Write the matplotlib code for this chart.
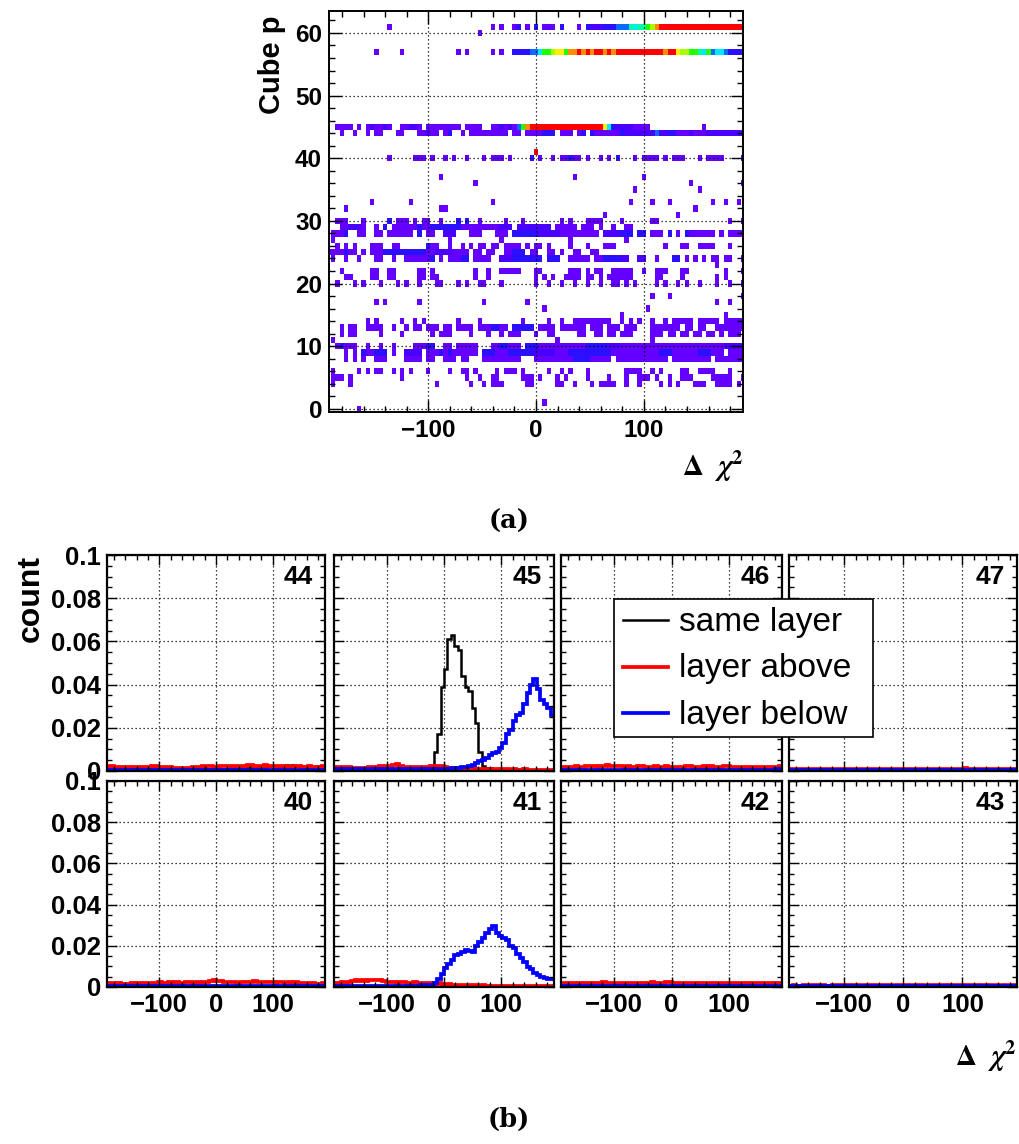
import matplotlib
matplotlib.use('Agg')
import matplotlib.pyplot as plt
import numpy as np
from matplotlib.colors import ListedColormap, BoundaryNorm
from matplotlib.lines import Line2D
from matplotlib.patches import Rectangle
from matplotlib.ticker import MultipleLocator, FuncFormatter, FormatStrFormatter

plt.rcParams['font.family'] = ['Liberation Sans', 'DejaVu Sans']
plt.rcParams['font.weight'] = 'bold'

# ---- (a) cube p vs delta chi2 map: 97 x-bins of width 4 centred on 0, rows 0..63 ----
# each row: "col", "a-b" or "a-b:code"; code 1..9, o (orange), r (red); default code 1
cube_rows = {
    0: "7",
    1: "50",
    4: "1 5 25 33 36 38-40 46-47 53-54 57 61 63-66 69 72 77 79 81 85-87 90-93 95",
    5: "1-3 5 17 32 35 38-39 45-47 49 53 55 60 65 69 72-74 76 79 82-84 89-93 96",
    6: "1 7 9 11-12 15 17 19 23 28 31-32 34 39 41-43 45 51 54 56 60 69-72 75 77 82-83 86-89 93",
    8: "4 6 8 11-13 18-21 23-24 27-29 31-32 36-38 39-44 48-56 57-60:3 61-65 67-71 72-78 80-84 85-88 90-91 92-96",
    9: "4 6 8:3 9-10 11-13:3 15 18-21:2 23-25 26:3 27 28:3 29 30-34 36-38:3 39-41 42-44:3 45-47:3 "
       "48-52:2 53-55 56-60:3 61-65:3 66-71 72-76 77-79:3 80-82 83-85 86-88:3 89-91 93-96",
    10: "2 3:3 4-6 9 12 15 20-22 23-24:3 27-28 30-31 32-34 38-39 40-41:3 42-44 46-48:3 49-52 53-55 "
        "56-59 60-64:3 65-67:2 68-71 72-76 77-80 81-84 85-87 88-91 92-96:2",
    11: "1 53 75",
    12: "3 5-6 12 17 24 26-28 33 37 40 42-44 48 51-52 58-59 62-63 65-66 68-70 75-77 79-80 82-83 85-86 88-89 91 93-95",
    13: "3 5-6 9-12 15 18 20-21 23-25 27-28 30-33 35-37 38-39:3 40-41 43-47:3 49-52 54-55 56-59 "
        "61-63 65-67 69-71 75-77 78-81 83-84 86-87 90-96",
    14: "9 11 17 20 22 30 35 45 51 54 57-65 68 70 72 75 78 80-84 86-90 92-96",
    15: "68 92",
    16: "50 74",
    17: "11 13 21 36 46 90 93",
    18: "75 79 96",
    20: "2 6 8 12 16 18 21 25-26 30 32 35-36 40 48 51 54 57 60 63 66-67 69 71 76 78 81 83 86 90 93 96",
    21: "4-5 10-11 14-15 21-22 24-25 34 37 48 50 52 55-58 60-61 63 65-70 76-77 82 90 92",
    22: "3 10-11 14-15 21-22 24 34 37 40-44 48-49 56-58 60 62-63 66-70 73 76-78 82-83 92 96",
    23: "90",
    24: "1 4 7 11-12 15 18-22 23 24:3 26 28-30 31-32:3 34-37 40-42:2 43-49:3 51-53:3 56-60 62-63 "
        "64-67:3 68-69:2 72-73:2 76 80-81:3 83 85 87 89-90 92-93 96",
    25: "0-3 4:3 5-6 8 10-12 13-22:3 23-24 25-28:2 29-31 32 34-35 37-38 41-42 43-45:3 47-48 51-52 54 57-58 61-62",
    26: "2 4 6 10-12 15-16 23:3 24-25 28 31 33 35-36 38-39 41-44 46 48-49 51 56 60 64-66 78 82-83 86-89 93",
    27: "1 28 40 56 69",
    28: "1 2-3 4:3 7-8 11-12 14-16 17-19 21:3 23-24 27-29:2 33-35 39-41 43-48:3 49-53:2 54-60 61-62 "
        "64-67:2 68-70:3 72-73:3 75-77 79:3 81 83:3 84-89 91 93-96",
    29: "3-4 5-7:2 8 11 13:3 15-20 21:3 22-23 24-30:3 31-35 36-39 40-42:2 44-51:2 53-57 59-61 63 66 69-70",
    30: "2-4 8 14:3 16-18 20 22-23 26 30:3 32:3 35 41 45 54 56 60-63 68 75-76 93 96",
    31: "64 81",
    32: "4 26-27 85",
    33: "10 19 38 70 75 79 89 92 95",
    35: "71 86",
    36: "34 84 96",
    37: "26 57 73",
    40: "14 20-22 24 27 29 32 36 38-40 42 47:3 49 52 54-55 56:3 57-58 60 63 65 67:3 71 73-76 78 80-82 86 88-91 96",
    41: "48:r",
    44: "3 6 9 11-12 16-17 21-22 23:2 24-25 27 28:3 31 33-41 43-44 46-49 50-52:3 54-56 58 59:3 61:3 "
        "62-67 68:3 69-73:2 74-75:2 76:4 77-78:2 79-80:3 81-83 84:2 85-87 88-95:2 96:3",
    45: "2-5 7 9 10:2 11-12 13:2 14 17-18 19-20:2 21 23-30 32-35 38-39 40:2 41 42:2 43 44:4 45:7 "
        "46:o 47-63:r 64:9 65:5 66:3 67-70:2 71-74 87",
    57: "11 17 30 32 38 40 43-46:3 47-48:4 49:5 50-51:7 52:8 53-54:9 55:7 56-57:o 58:r 59:o 60:r 61:o "
        "62-63:r 64:o 65:r 66:o 67-77:r 78:o 79-80:r 81:9 82-83:8 84-85:7 86:6 87:5 88:7 89:4 90-91:5 92:4 93-96:3",
    60: "35",
    61: "14 38 40 43 44:3 46 48:3 50-52 54:3 58 60:3 61-63:2 64-66:3 67-69:4 70:6 71:5 72-73:6 "
        "74:7 75:8 76:o 77-96:r",
}
code_levels = {'1': 1, '2': 2, '3': 3, '4': 4, '5': 5, '6': 6, '7': 7, '8': 8, '9': 9, 'o': 10, 'r': 11}
palette = ['#6400ff', '#4a00ff', '#2a10ff', '#0a6cff', '#00e8ff', '#00ffa0',
           '#20ff00', '#a8ff00', '#ffee00', '#ff8c00', '#ff0000']

# ---- (b) delta chi2 per neighbouring cube, 64 bins over [-192, 192], values in 1e-4 ----
same_44 = [9, 10, 9, 10, 11, 10, 9, 10, 10, 11, 10, 11, 10, 12, 11, 10, 11, 12, 13, 12,
           11, 10, 11, 10, 9, 10, 11, 10, 12, 11, 10, 11, 10, 9, 11, 10, 12, 13, 14, 15,
           16, 17, 18, 16, 19, 21, 20, 22, 24, 21, 19, 23, 26, 24, 28, 25, 22, 21, 20, 22,
           19, 21, 20, 22]
above_44 = [20, 22, 19, 18, 17, 16, 18, 15, 17, 16, 18, 19, 20, 21, 22, 19, 20, 18, 17, 16,
            15, 14, 16, 15, 16, 18, 19, 20, 22, 21, 23, 20, 19, 22, 24, 23, 21, 24, 25, 24,
            22, 26, 27, 25, 23, 24, 26, 22, 21, 20, 23, 25, 22, 20, 19, 21, 23, 20, 18, 21,
            19, 20, 18, 21]
below_44 = [5, 6, 5, 5, 6, 5, 5, 4, 5, 5, 5, 6, 5, 5, 6, 5, 5, 5, 4, 5,
            5, 6, 5, 5, 5, 6, 5, 5, 5, 6, 5, 5, 6, 5, 5, 4, 5, 6, 5, 5,
            5, 5, 6, 5, 5, 5, 6, 5, 5, 5, 5, 6, 5, 5, 5, 5, 6, 5, 5, 5,
            5, 5, 6, 5]

same_45 = [8, 8, 9, 8, 8, 9, 8, 7, 8, 8, 9, 8, 8, 8, 9, 8, 8, 9, 8, 8,
           8, 9, 8, 8, 9, 8, 8, 9, 10, 90, 170, 390, 470, 610, 630, 580, 560, 440, 390, 370,
           290, 220, 90, 23, 15, 12, 10, 10, 9, 8, 8, 8, 7, 7, 7, 6, 6, 6, 5, 5,
           5, 5, 5, 5]
above_45 = [19, 20, 17, 18, 19, 14, 12, 12, 13, 15, 17, 18, 18, 21, 22, 23, 22, 26, 34, 22,
            18, 17, 19, 18, 17, 20, 18, 20, 23, 22, 23, 21, 19, 16, 14, 12, 12, 13, 11, 12,
            12, 10, 9, 8, 9, 8, 8, 7, 8, 7, 8, 6, 7, 6, 6, 7, 6, 5, 6, 6,
            5, 6, 5, 6]
below_45 = [7, 8, 6, 7, 8, 7, 6, 7, 8, 7, 6, 7, 8, 7, 7, 8, 7, 8, 7, 7,
            8, 9, 8, 8, 8, 9, 8, 9, 9, 10, 10, 10, 11, 11, 12, 12, 13, 18, 20, 25,
            30, 35, 45, 50, 60, 75, 85, 90, 105, 130, 170, 190, 230, 260, 270, 310, 360, 400, 425, 380,
            330, 310, 290, 260]

same_46 = [3, 3, 2, 3, 3, 3, 2, 3, 3, 3, 3, 2, 3, 3, 3, 3, 2, 3, 3, 3,
           3, 3, 2, 3, 3, 3, 3, 2, 3, 3, 3, 3, 3, 2, 3, 3, 3, 3, 2, 3,
           3, 3, 3, 3, 2, 3, 3, 3, 3, 2, 3, 3, 3, 3, 3, 2, 3, 3, 3, 3,
           2, 3, 3, 3]
above_46 = [16, 18, 17, 19, 22, 20, 19, 21, 23, 21, 20, 22, 24, 26, 23, 22, 21, 22, 20, 21,
            19, 20, 22, 21, 19, 18, 20, 21, 19, 20, 22, 19, 18, 20, 17, 19, 21, 22, 20, 18,
            20, 22, 19, 21, 18, 20, 19, 22, 21, 20, 18, 19, 17, 20, 18, 19, 20, 17, 18, 19,
            17, 18, 20, 22]
below_46 = [5, 5, 6, 5, 5, 5, 6, 5, 5, 5, 6, 5, 5, 5, 5, 6, 5, 5, 5, 6,
            5, 5, 5, 6, 5, 5, 5, 5, 6, 5, 5, 5, 6, 5, 5, 5, 5, 6, 5, 5,
            5, 6, 5, 5, 5, 5, 6, 5, 5, 6, 5, 5, 5, 6, 5, 5, 5, 6, 5, 5,
            6, 5, 7, 8]

same_47 = [2, 3, 2, 2, 3, 2, 2, 2, 3, 2, 2, 3, 2, 2, 2, 3, 2, 2, 3, 2,
           2, 2, 3, 2, 2, 3, 2, 2, 2, 3, 2, 2, 3, 2, 2, 2, 3, 2, 2, 3,
           2, 2, 2, 3, 2, 2, 3, 2, 2, 2, 3, 2, 2, 3, 2, 2, 2, 3, 2, 2,
           3, 2, 2, 2]
above_47 = [8, 9, 8, 7, 8, 9, 10, 9, 8, 9, 8, 10, 9, 8, 9, 10, 9, 8, 9, 10,
            11, 10, 9, 8, 9, 10, 9, 8, 9, 10, 9, 8, 9, 10, 11, 10, 9, 8, 9, 10,
            9, 10, 11, 10, 9, 8, 9, 10, 11, 12, 11, 10, 9, 10, 9, 8, 9, 10, 9, 8,
            9, 8, 9, 8]
below_47 = [4, 5, 4, 5, 4, 4, 5, 4, 5, 4, 5, 4, 4, 5, 4, 5, 4, 4, 5, 4,
            5, 4, 5, 4, 4, 5, 4, 5, 4, 5, 4, 4, 5, 4, 5, 4, 5, 4, 4, 5,
            4, 5, 4, 5, 4, 4, 5, 4, 5, 4, 5, 4, 5, 4, 4, 5, 4, 5, 6, 5,
            4, 5, 4, 5]

same_40 = [3, 2, 3, 3, 2, 3, 2, 3, 3, 2, 3, 3, 2, 3, 2, 3, 3, 2, 3, 3,
           2, 3, 3, 2, 3, 2, 3, 3, 2, 3, 3, 2, 3, 3, 2, 3, 2, 3, 3, 2,
           3, 3, 2, 3, 2, 3, 3, 2, 3, 3, 2, 3, 3, 2, 3, 2, 3, 3, 2, 3,
           3, 2, 3, 3]
above_40 = [16, 18, 15, 17, 14, 16, 15, 17, 18, 19, 16, 18, 20, 21, 19, 22, 20, 21, 23, 20,
            22, 19, 21, 23, 22, 20, 24, 21, 23, 25, 28, 35, 30, 27, 24, 22, 25, 23, 21, 24,
            26, 23, 25, 27, 24, 22, 25, 23, 24, 21, 22, 24, 20, 23, 21, 22, 18, 19, 20, 17,
            18, 16, 15, 17]
below_40 = [4, 5, 4, 4, 5, 4, 5, 4, 4, 5, 4, 4, 5, 4, 5, 4, 4, 5, 4, 4,
            5, 4, 5, 4, 4, 5, 4, 4, 5, 4, 4, 5, 4, 4, 5, 4, 4, 5, 4, 5,
            4, 4, 5, 4, 4, 5, 4, 5, 4, 4, 5, 4, 4, 5, 4, 4, 5, 4, 4, 5,
            4, 4, 5, 4]

same_41 = [3, 3, 2, 3, 3, 2, 3, 3, 3, 2, 3, 3, 2, 3, 3, 3, 2, 3, 3, 2,
           3, 3, 3, 2, 3, 3, 2, 3, 3, 3, 2, 3, 3, 2, 3, 3, 3, 2, 3, 3,
           2, 3, 3, 3, 2, 3, 3, 2, 3, 3, 3, 2, 3, 3, 2, 3, 3, 3, 2, 3,
           3, 2, 3, 3]
above_41 = [20, 18, 22, 19, 24, 30, 32, 30, 33, 31, 34, 32, 36, 33, 27, 24, 22, 25, 21, 23,
            24, 20, 19, 22, 18, 21, 19, 17, 18, 16, 17, 15, 16, 14, 12, 11, 12, 10, 11, 10,
            8, 9, 7, 8, 7, 6, 7, 6, 7, 6, 5, 6, 5, 6, 5, 5, 6, 5, 5, 4,
            5, 4, 5, 5]
below_41 = [4, 5, 4, 5, 4, 5, 4, 5, 5, 4, 5, 5, 6, 5, 5, 6, 5, 6, 6, 5,
            6, 7, 6, 7, 7, 8, 8, 10, 12, 20, 40, 65, 90, 110, 130, 155, 160, 170, 180, 175,
            170, 200, 220, 240, 260, 280, 295, 260, 250, 240, 230, 200, 190, 160, 140, 120, 95, 85, 70, 58,
            50, 45, 40, 38]

same_42 = [2, 2, 3, 2, 2, 2, 3, 2, 2, 3, 2, 2, 2, 3, 2, 2, 3, 2, 2, 2,
           3, 2, 2, 3, 2, 2, 2, 3, 2, 2, 3, 2, 2, 2, 3, 2, 2, 3, 2, 2,
           2, 3, 2, 2, 3, 2, 2, 2, 3, 2, 2, 3, 2, 2, 2, 3, 2, 2, 3, 2,
           2, 2, 3, 2]
above_42 = [16, 17, 15, 18, 16, 17, 19, 18, 16, 17, 18, 20, 23, 21, 18, 17, 16, 18, 19, 17,
            18, 20, 19, 18, 21, 20, 22, 19, 18, 20, 26, 24, 20, 18, 19, 17, 18, 20, 19, 17,
            18, 19, 20, 18, 17, 19, 18, 16, 17, 18, 19, 17, 18, 20, 21, 19, 18, 17, 19, 18,
            17, 16, 18, 17]
below_42 = [3, 4, 3, 3, 4, 3, 3, 3, 4, 3, 3, 4, 3, 3, 3, 4, 3, 3, 4, 3,
            3, 3, 4, 3, 3, 4, 3, 3, 3, 4, 3, 3, 4, 3, 3, 3, 4, 3, 3, 4,
            3, 3, 3, 4, 3, 3, 4, 3, 3, 3, 4, 3, 3, 4, 3, 3, 3, 4, 3, 3,
            4, 3, 3, 3]

same_43 = [2, 2, 2, 3, 2, 2, 2, 2, 3, 2, 2, 2, 2, 3, 2, 2, 2, 2, 3, 2,
           2, 2, 2, 3, 2, 2, 2, 2, 3, 2, 2, 2, 2, 3, 2, 2, 2, 2, 3, 2,
           2, 2, 2, 3, 2, 2, 2, 2, 3, 2, 2, 2, 2, 3, 2, 2, 2, 2, 3, 2,
           2, 2, 2, 3]
above_43 = [7, 8, 7, 6, 8, 7, 9, 8, 7, 8, 6, 7, 8, 9, 8, 7, 8, 7, 9, 8,
            7, 8, 9, 10, 8, 7, 8, 9, 8, 7, 8, 10, 9, 8, 7, 8, 9, 8, 7, 8,
            9, 10, 9, 8, 7, 8, 9, 8, 7, 8, 8, 9, 8, 7, 8, 9, 8, 7, 8, 7,
            8, 7, 9, 8]
below_43 = [3, 3, 4, 3, 3, 3, 4, 3, 3, 3, 4, 3, 3, 3, 4, 3, 3, 3, 4, 3,
            3, 3, 4, 3, 3, 3, 4, 3, 3, 3, 4, 3, 3, 3, 4, 3, 3, 3, 4, 3,
            3, 3, 4, 3, 3, 3, 4, 3, 3, 3, 4, 3, 3, 3, 4, 3, 3, 3, 4, 3,
            3, 3, 4, 3]

panel_ids = [44, 45, 46, 47, 40, 41, 42, 43]
panel_data = {
    44: (same_44, above_44, below_44), 45: (same_45, above_45, below_45),
    46: (same_46, above_46, below_46), 47: (same_47, above_47, below_47),
    40: (same_40, above_40, below_40), 41: (same_41, above_41, below_41),
    42: (same_42, above_42, below_42), 43: (same_43, above_43, below_43),
}
series_labels = ['same layer', 'layer above', 'layer below']
series_colors = ['black', '#ff0000', '#0000ff']
series_widths = [1.8, 2.7, 2.7]

W, H = 1019, 1144


def fig_box(left, top, right, bottom):
    return [left / W, 1 - bottom / H, (right - left) / W, (bottom - top) / H]


def parse_cells(spec):
    cells = []
    for tok in spec.split():
        rng, _, code = tok.partition(':')
        a, _, b = rng.partition('-')
        for c in range(int(a), int(b or a) + 1):
            cells.append((c, code or '1'))
    return cells


def minus_fmt(v, pos):
    return f'{v:g}'.replace('-', '\u2212')


def root_style(ax, major_len, minor_len, spine_w):
    ax.tick_params(which='both', direction='in', top=True, right=True, width=1.0)
    ax.tick_params(which='major', length=major_len)
    ax.tick_params(which='minor', length=minor_len)
    for sp in ax.spines.values():
        sp.set_linewidth(spine_w)
    ax.grid(True, which='major', color='black', linestyle=(0, (1, 2.2)), linewidth=0.9)


fig = plt.figure(figsize=(W / 100, H / 100), dpi=100)

# ---- panel (a) ----
ax = fig.add_axes(fig_box(329, 11, 743, 412))
z = np.zeros((64, 97))
for row, spec in cube_rows.items():
    for col, code in parse_cells(spec):
        z[row, col] = code_levels[code]
x_edges = np.linspace(-194, 194, 98)
y_edges = np.arange(-0.5, 64, 1.0)
cmap = ListedColormap(palette)
norm = BoundaryNorm(np.arange(0.5, 12.5, 1.0), cmap.N)
ax.pcolormesh(x_edges, y_edges, np.ma.masked_equal(z, 0), cmap=cmap, norm=norm,
              shading='flat', antialiased=False, edgecolors='none')
ax.set_xlim(-192, 192)
ax.set_ylim(-0.5, 63.5)
ax.xaxis.set_major_locator(MultipleLocator(100))
ax.xaxis.set_minor_locator(MultipleLocator(20))
ax.yaxis.set_major_locator(MultipleLocator(10))
ax.yaxis.set_minor_locator(MultipleLocator(2))
ax.xaxis.set_major_formatter(FuncFormatter(minus_fmt))
root_style(ax, 9, 4.5, 1.4)
ax.set_axisbelow(False)
ax.tick_params(labelsize=17.5, pad=5)

fig.text(272 / W, 1 - 16 / H, 'Cube p', rotation=90, ha='center', va='top', fontsize=21)
fig.text(744 / W, 1 - 466 / H, r'$\Delta\ \ \chi^{2}$', ha='right', va='center',
         fontsize=21, math_fontfamily='stix')
fig.text(509 / W, 1 - 521 / H, '(a)', ha='center', va='center',
         fontsize=18.5, family='DejaVu Serif', fontweight='bold')

# ---- panel (b) ----
col_px = [(107, 325), (334, 554), (561, 782), (789, 1017)]
row_px = [(555, 771), (781, 987)]
hist_edges = np.linspace(-192, 192, 65)

for n, pid in enumerate(panel_ids):
    r, c = divmod(n, 4)
    bx = fig.add_axes(fig_box(col_px[c][0], row_px[r][0], col_px[c][1], row_px[r][1]))
    for vals, color, lw in zip(panel_data[pid], series_colors, series_widths):
        bx.stairs(np.array(vals) * 1e-4, hist_edges, baseline=None, color=color, linewidth=lw)
    bx.set_xlim(-192, 192)
    bx.set_ylim(0, 0.1)
    bx.xaxis.set_major_locator(MultipleLocator(100))
    bx.xaxis.set_minor_locator(MultipleLocator(20))
    bx.yaxis.set_major_locator(MultipleLocator(0.02))
    bx.yaxis.set_minor_locator(MultipleLocator(0.005))
    bx.xaxis.set_major_formatter(FuncFormatter(minus_fmt))
    bx.yaxis.set_major_formatter(FormatStrFormatter('%g'))
    root_style(bx, 7, 3.5, 1.6)
    bx.tick_params(labelsize=18.5, pad=4.5)
    if c > 0:
        bx.tick_params(labelleft=False)
    if r == 0:
        bx.tick_params(labelbottom=False)
    bx.text(1 - 12 / (col_px[c][1] - col_px[c][0]), 1 - 22 / (row_px[r][1] - row_px[r][0]),
            str(pid), transform=bx.transAxes, ha='right', va='center', fontsize=19)

fig.text(31 / W, 1 - 555 / H, 'count', rotation=90, ha='center', va='top', fontsize=23)
fig.text(1017 / W, 1 - 1056 / H, r'$\Delta\ \ \chi^{2}$', ha='right', va='center',
         fontsize=21, math_fontfamily='stix')
fig.text(509 / W, 1 - 1119 / H, '(b)', ha='center', va='center',
         fontsize=18.5, family='DejaVu Serif', fontweight='bold')

# legend box drawn over panels 46/47
fig.add_artist(Rectangle((614 / W, 1 - 737 / H), 259 / W, 138 / H, transform=fig.transFigure,
                         facecolor='white', edgecolor='black', linewidth=1.2, zorder=10))
for k, (lab, color, lw) in enumerate(zip(series_labels, series_colors, series_widths)):
    ly = 620 + 46.5 * k
    fig.add_artist(Line2D([623 / W, 668 / W], [1 - ly / H, 1 - ly / H], transform=fig.transFigure,
                          color=color, linewidth=lw, zorder=11))
    fig.text(679 / W, 1 - (ly + 11) / H, lab, ha='left', va='baseline', fontsize=24,
             fontweight='normal', zorder=11)

fig.savefig('out.png', dpi=100)
